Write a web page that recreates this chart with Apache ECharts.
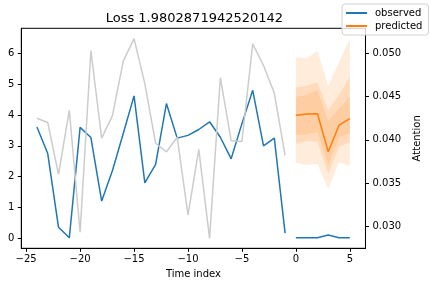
<!DOCTYPE html>
<html>
<head>
<meta charset="utf-8">
<script src="https://cdn.jsdelivr.net/npm/echarts@6/dist/echarts.min.js"></script>
<style>
html, body { margin: 0; padding: 0; background: #fff; }
#chart { width: 430px; height: 286px; }
</style>
</head>
<body>
<div id="chart"></div>
<script>
// history (encoder) part
var histIndex = [-24, -23, -22, -21, -20, -19, -18, -17, -16, -15, -14, -13,
                 -12, -11, -10, -9, -8, -7, -6, -5, -4, -3, -2, -1];
var observedHist = [3.61, 2.75, 0.36, 0.02, 3.6, 3.27, 1.21, 2.2, 3.4, 4.62, 1.8, 2.4,
                    4.37, 3.25, 3.34, 3.53, 3.78, 3.28, 2.58, 3.72, 4.8, 3.0, 3.25, 0.17];
var attention = [0.0425, 0.0420, 0.0360, 0.0434, 0.0293, 0.0503, 0.0402, 0.0428, 0.0491, 0.0517, 0.0465, 0.0396,
                 0.0386, 0.0403, 0.0313, 0.0389, 0.0286, 0.0472, 0.0399, 0.0398, 0.0511, 0.0486, 0.0454, 0.0382];

// prediction (decoder) part
var futureIndex = [0, 1, 2, 3, 4, 5];
var observedFuture = [0.02, 0.02, 0.02, 0.11, 0.02, 0.02];
var predicted = [3.99, 4.03, 4.04, 2.81, 3.67, 3.88];
var qLow02 = [2.45, 2.38, 2.41, 1.6, 2.46, 2.35];
var qHigh98 = [5.87, 5.84, 6.08, 4.94, 5.72, 6.48];
var qLow10 = [3.06, 3.16, 3.13, 2.1, 2.97, 3.12];
var qHigh90 = [4.9, 4.94, 5.06, 4.16, 4.66, 5.24];
var qLow25 = [3.35, 3.37, 3.46, 2.38, 3.27, 3.4];
var qHigh75 = [4.59, 4.65, 4.81, 3.8, 4.21, 4.59];

var xTicks = [-25, -20, -15, -10, -5, 0, 5];
var leftTicks = [0, 1, 2, 3, 4, 5, 6];
var rightTicks = [0.030, 0.035, 0.040, 0.045, 0.050];

var FONT = 'DejaVu Sans';

function pairs(xs, ys) {
    return xs.map(function (x, i) { return [x, ys[i]]; });
}

function bandSeries(lo, hi) {
    return {
        type: 'custom',
        xAxisIndex: 0,
        yAxisIndex: 0,
        silent: true,
        z: 1,
        data: futureIndex.map(function (x, i) { return [x, lo[i], hi[i]]; }),
        encode: { x: 0, y: [1, 2] },
        renderItem: function (params, api) {
            if (params.dataIndex !== 0) return null;
            var top = [], bottom = [];
            for (var i = 0; i < futureIndex.length; i++) {
                top.push(api.coord([futureIndex[i], hi[i]]));
                bottom.unshift(api.coord([futureIndex[i], lo[i]]));
            }
            return {
                type: 'polygon',
                shape: { points: top.concat(bottom) },
                style: { fill: 'rgba(255,127,14,0.15)' }
            };
        }
    };
}

function lineSeries(name, data, color, yIndex, z) {
    return {
        name: name,
        type: 'line',
        yAxisIndex: yIndex,
        data: data,
        symbol: 'none',
        z: z,
        lineStyle: { color: color, width: 1.5 },
        itemStyle: { color: color }
    };
}

var axisText = { color: '#000', fontSize: 10, fontFamily: FONT };

var option = {
    animation: false,
    backgroundColor: '#fff',
    title: {
        text: 'Loss 1.9802871942520142',
        left: 194.4,
        textAlign: 'center',
        top: 12,
        padding: 0,
        textStyle: { color: '#000', fontSize: 13, fontWeight: 'normal', fontFamily: FONT }
    },
    legend: {
        orient: 'vertical',
        left: 342,
        top: 4,
        padding: [4, 6, 4, 4],
        itemGap: 3,
        itemWidth: 21,
        itemHeight: 2,
        data: [{ name: 'observed', icon: 'rect' }, { name: 'predicted', icon: 'rect' }],
        textStyle: { color: '#000', fontSize: 10, fontFamily: FONT, padding: [0, 0, 0, 3] },
        backgroundColor: 'rgba(255,255,255,0.8)',
        borderColor: '#d0d0d0',
        borderWidth: 1,
        borderRadius: 3
    },
    grid: {
        left: 21.3,
        right: 62.5,
        top: 28.3,
        bottom: 37.7,
        show: true,
        borderColor: '#000',
        borderWidth: 1,
        containLabel: false
    },
    xAxis: {
        type: 'value',
        min: -25.45,
        max: 6.45,
        name: 'Time index',
        nameLocation: 'middle',
        nameGap: 20,
        nameTextStyle: axisText,
        splitLine: { show: false },
        axisLine: { onZero: false, lineStyle: { color: '#000', width: 1 } },
        axisTick: { customValues: xTicks, length: 3.5, lineStyle: { color: '#000' } },
        axisLabel: Object.assign({
            customValues: xTicks,
            margin: 6,
            formatter: function (v) { return String(v).replace('-', '\u2212'); }
        }, axisText)
    },
    yAxis: [{
        type: 'value',
        position: 'left',
        min: -0.32,
        max: 6.81,
        splitLine: { show: false },
        axisLine: { show: true, onZero: false, lineStyle: { color: '#000', width: 1 } },
        axisTick: { customValues: leftTicks, length: 3.5, lineStyle: { color: '#000' } },
        axisLabel: Object.assign({ customValues: leftTicks, margin: 7 }, axisText)
    }, {
        type: 'value',
        position: 'right',
        min: 0.02745,
        max: 0.0529,
        name: 'Attention',
        nameLocation: 'middle',
        nameRotate: 90,
        nameGap: 41,
        nameTextStyle: axisText,
        splitLine: { show: false },
        axisLine: { show: true, onZero: false, lineStyle: { color: '#000', width: 1 } },
        axisTick: { customValues: rightTicks, length: 3.5, lineStyle: { color: '#000' } },
        axisLabel: Object.assign({
            customValues: rightTicks,
            margin: 7,
            formatter: function (v) { return v.toFixed(3); }
        }, axisText)
    }],
    series: [
        bandSeries(qLow02, qHigh98),
        bandSeries(qLow10, qHigh90),
        bandSeries(qLow25, qHigh75),
        lineSeries('predicted', pairs(futureIndex, predicted), '#ff7f0e', 0, 3),
        lineSeries('observed', pairs(histIndex, observedHist), '#1f77b4', 0, 3),
        lineSeries('observed', pairs(futureIndex, observedFuture), '#1f77b4', 0, 3),
        lineSeries('attention', pairs(histIndex, attention), '#cccccc', 1, 4)
    ]
};

var myChart = echarts.init(document.getElementById('chart'));
myChart.setOption(option);
</script>
</body>
</html>
